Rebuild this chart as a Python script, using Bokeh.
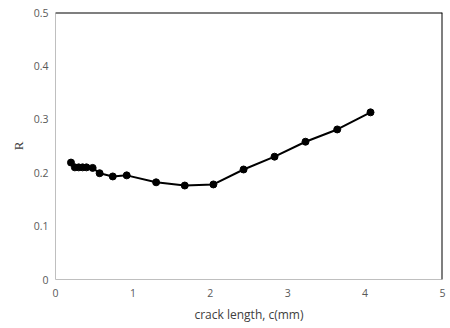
from bokeh.plotting import figure
from bokeh.models import Range1d, Span, FixedTicker
from bokeh.embed import file_html
from bokeh.resources import INLINE

crack_length = [0.20, 0.25, 0.30, 0.35, 0.40, 0.48, 0.57, 0.74, 0.92, 1.30, 1.67, 2.04, 2.43, 2.83, 3.23, 3.64, 4.07]
R_values = [0.219, 0.210, 0.210, 0.210, 0.210, 0.209, 0.199, 0.193, 0.195, 0.182, 0.176, 0.178, 0.206, 0.230, 0.258, 0.281, 0.313]
x_ticks = [0, 1, 2, 3, 4, 5]
y_ticks = [0, 0.1, 0.2, 0.3, 0.4, 0.5]

p = figure(width=450, height=328, output_backend="svg", toolbar_location=None,
           x_range=Range1d(0, 5), y_range=Range1d(0, 0.5),
           min_border_left=55, min_border_right=8, min_border_top=12, min_border_bottom=49)
p.outline_line_color = None
p.grid.visible = False
p.background_fill_color = "white"
p.border_fill_color = "white"

for ax in (p.xaxis[0], p.yaxis[0]):
    ax.axis_line_color = "#bfbfbf"
    ax.axis_line_width = 1
    ax.major_tick_line_color = None
    ax.minor_tick_line_color = None
    ax.major_tick_in = 0
    ax.major_tick_out = 0
    ax.minor_tick_in = 0
    ax.minor_tick_out = 0
    ax.major_label_text_color = "#595959"
    ax.major_label_text_font = "Open Sans"
    ax.major_label_text_font_size = "10.5px"

p.xaxis.ticker = FixedTicker(ticks=x_ticks)
p.yaxis.ticker = FixedTicker(ticks=y_ticks)
p.xaxis.major_label_overrides = {t: str(t) for t in x_ticks}
p.yaxis.major_label_overrides = {0: "0", 0.1: "0.1", 0.2: "0.2", 0.3: "0.3", 0.4: "0.4", 0.5: "0.5"}
p.xaxis.major_label_standoff = 9
p.yaxis.major_label_standoff = 7

p.xaxis.axis_label = "crack length, c(mm)"
p.xaxis.axis_label_text_font = "Open Sans"
p.xaxis.axis_label_text_font_style = "normal"
p.xaxis.axis_label_text_font_size = "12px"
p.xaxis.axis_label_text_color = "#404040"
p.xaxis.axis_label_standoff = 6

p.yaxis.axis_label = "R"
p.yaxis.axis_label_text_font = "Liberation Serif"
p.yaxis.axis_label_text_font_style = "normal"
p.yaxis.axis_label_text_font_size = "13px"
p.yaxis.axis_label_text_color = "#404040"
p.yaxis.axis_label_standoff = 5

p.add_layout(Span(location=0.5, dimension="width", line_color="black", line_width=2))
p.add_layout(Span(location=5, dimension="height", line_color="black", line_width=2))

p.line(crack_length, R_values, line_color="black", line_width=2)
p.scatter(crack_length, R_values, size=7, fill_color="black", line_color="black")

open("out.html", "w").write(file_html(p, INLINE))
